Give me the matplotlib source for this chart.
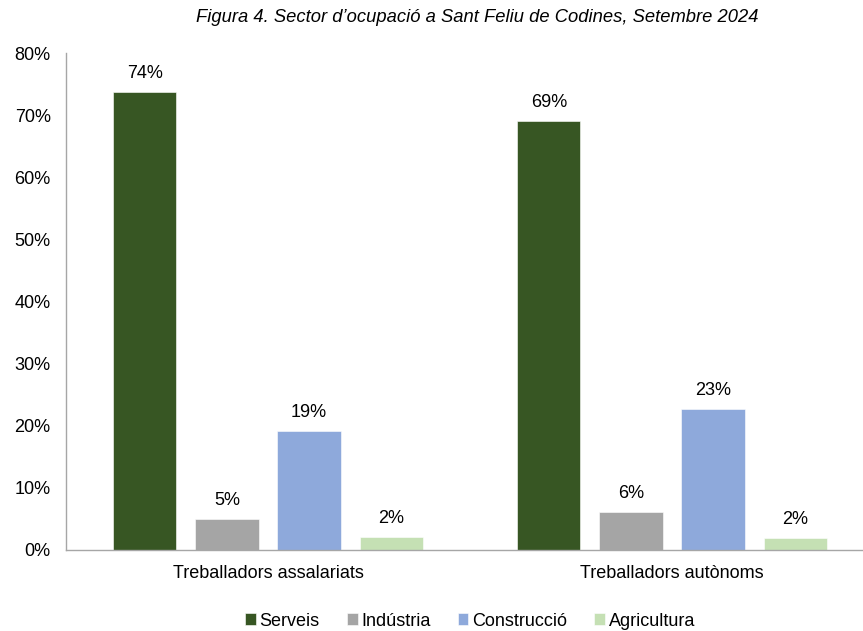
import numpy as np
import matplotlib.pyplot as plt
from matplotlib.ticker import PercentFormatter

# data
categories = ['Treballadors assalariats', 'Treballadors autònoms']
sectors = ['Serveis', 'Indústria', 'Construcció', 'Agricultura']
serveis = [0.737, 0.691]
industria = [0.050, 0.061]
construccio = [0.192, 0.227]
agricultura = [0.021, 0.019]
values = [serveis, industria, construccio, agricultura]
colors = ['#375623', '#A5A5A5', '#8EA9DB', '#C5E0B4']

plt.rcParams['font.family'] = ['Liberation Sans', 'DejaVu Sans']

fig = plt.figure(figsize=(8.63, 6.31), dpi=100)
ax = fig.add_axes([66 / 863, 81 / 631, 808 / 863, 497 / 631])

x = np.arange(len(categories))
step = 0.203
width = 0.156
for i, (name, vals, col) in enumerate(zip(sectors, values, colors)):
    pos = x + (i - 1.5) * step
    bars = ax.bar(pos, vals, width, color=col, label=name,
                  edgecolor='white', linewidth=0.4)
    for b, v in zip(bars, vals):
        ax.annotate(f'{v * 100:.0f}%', (b.get_x() + b.get_width() / 2, v),
                    xytext=(0, 7), textcoords='offset points',
                    ha='center', va='bottom', fontsize=13)

ax.set_xlim(-0.5, 1.5)
ax.set_ylim(0, 0.8)
ax.set_yticks(np.arange(0, 0.81, 0.1))
ax.yaxis.set_major_formatter(PercentFormatter(1.0, decimals=0))
ax.set_xticks(x)
ax.set_xticklabels(categories)
ax.tick_params(axis='both', length=0, labelsize=13)
ax.tick_params(axis='y', pad=11)
ax.tick_params(axis='x', pad=11)

for s in ['top', 'right']:
    ax.spines[s].set_visible(False)
for s in ['left', 'bottom']:
    ax.spines[s].set_color('#A6A6A6')
    ax.spines[s].set_linewidth(1)

handles, labels = ax.get_legend_handles_labels()
fig.legend(handles, labels, loc='center', bbox_to_anchor=(470 / 863, 1 - 621 / 631),
           ncol=4, frameon=False, fontsize=13, handlelength=0.6, handleheight=0.6,
           handletextpad=0.2, columnspacing=1.5, borderpad=0)

fig.text(477 / 863, 1 - 17 / 631,
         'Figura 4. Sector d’ocupació a Sant Feliu de Codines, Setembre 2024',
         ha='center', va='center', fontsize=13.2, style='italic',
         family=['Liberation Sans Narrow', 'Liberation Sans', 'DejaVu Sans'])

fig.savefig('out.png', dpi=100)
